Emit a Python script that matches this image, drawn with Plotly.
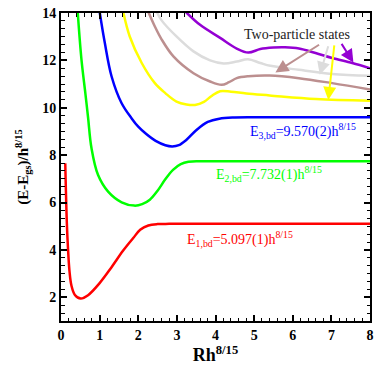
import plotly.graph_objects as go

# bound-state branches
red_x = [0.11, 0.15, 0.18, 0.22, 0.27, 0.36, 0.51, 0.70, 1.0, 1.3, 1.6, 1.87, 2.05, 2.26, 2.5, 2.8, 3.5, 5.0, 8.0]
red_y = [7.66, 5.2, 4.1, 3.1, 2.5, 2.1, 1.95, 2.09, 2.6, 3.25, 3.95, 4.5, 4.85, 5.03, 5.09, 5.1, 5.1, 5.1, 5.1]

green_x = [0.43, 0.53, 0.63, 0.70, 0.79, 0.96, 1.22, 1.57, 1.90, 2.1, 2.3, 2.5, 2.7, 2.9, 3.1, 3.3, 3.6, 4.5, 8.0]
green_y = [14.1, 12.03, 10.62, 9.6, 8.29, 7.16, 6.46, 6.01, 5.87, 5.93, 6.12, 6.5, 6.98, 7.38, 7.62, 7.72, 7.74, 7.74, 7.74]

blue_x = [1.0, 1.135, 1.31, 1.57, 1.83, 2.0, 2.2, 2.45, 2.7, 2.88, 3.05, 3.25, 3.5, 3.8, 4.1, 4.5, 5.0, 8.0]
blue_y = [14.05, 12.73, 11.32, 10.19, 9.55, 9.2, 8.9, 8.6, 8.42, 8.37, 8.42, 8.65, 9.05, 9.4, 9.54, 9.59, 9.6, 9.6]

# two-particle branches
yellow_x = [1.61, 1.78, 2.09, 2.43, 2.7, 2.99, 3.25, 3.47, 3.7, 3.9, 4.12, 4.4, 4.8, 5.4, 6.6, 8.0]
yellow_y = [14.05, 13.01, 11.89, 11.04, 10.62, 10.26, 10.14, 10.12, 10.25, 10.5, 10.7, 10.68, 10.6, 10.52, 10.37, 10.3]

brown_x = [2.26, 2.43, 2.6, 2.91, 3.43, 3.86, 4.16, 4.35, 4.55, 4.85, 5.4, 6.16, 7.02, 8.0]
brown_y = [14.05, 13.43, 12.9, 12.17, 11.46, 11.11, 10.97, 11.08, 11.25, 11.33, 11.36, 11.25, 11.04, 10.77]

grey_x = [2.48, 2.6, 2.99, 3.43, 3.86, 4.21, 4.55, 4.84, 5.16, 5.42, 6.16, 7.02, 8.0]
grey_y = [14.05, 13.7, 13.01, 12.38, 12.0, 11.87, 11.95, 12.05, 11.89, 11.77, 11.6, 11.43, 11.35]

violet_x = [3.24, 3.6, 4.12, 4.55, 4.85, 5.16, 5.5, 5.8, 6.16, 6.59, 7.02, 7.54, 8.0]
violet_y = [14.03, 13.5, 12.95, 12.5, 12.33, 12.48, 12.54, 12.55, 12.5, 12.31, 12.1, 11.89, 11.67]

series = [
    (red_x, red_y, "#ff0000"),
    (green_x, green_y, "#00ff00"),
    (blue_x, blue_y, "#0000ff"),
    (yellow_x, yellow_y, "#ffff00"),
    (brown_x, brown_y, "#bc8f8f"),
    (grey_x, grey_y, "#dcdcdc"),
    (violet_x, violet_y, "#9400d3"),
]

fig = go.Figure()
for xs, ys, col in series:
    fig.add_trace(go.Scatter(x=xs, y=ys, mode="lines",
                             line=dict(color=col, width=2.5, shape="spline", smoothing=1.0),
                             showlegend=False, hoverinfo="skip"))

serif = "Liberation Serif, Times New Roman, serif"

# energy labels
labels = [
    (4.85, 9.0, "E<sub>3,bd</sub>=9.570(2)h<sup>8/15</sup>", "#0000ff"),
    (3.95, 7.2, "E<sub>2,bd</sub>=7.732(1)h<sup>8/15</sup>", "#00ff00"),
    (3.21, 4.45, "E<sub>1,bd</sub>=5.097(1)h<sup>8/15</sup>", "#ff0000"),
]
for lx, ly, txt, col in labels:
    fig.add_annotation(x=lx, y=ly, text=txt, showarrow=False, xanchor="left", yanchor="middle",
                       font=dict(family=serif, size=14, color=col))

fig.add_annotation(x=6.11, y=13.11, text="Two-particle states", showarrow=False,
                   font=dict(family=serif, size=14, color="#222222"))

# arrows: (tail_x, tail_y, head_x, head_y, colour)
arrows = [
    (6.72, 12.70, 5.55, 11.49, "#bc8f8f"),
    (6.93, 12.66, 6.70, 11.39, "#dcdcdc"),
    (7.08, 12.70, 6.92, 10.33, "#ffff00"),
    (7.24, 12.76, 7.57, 11.91, "#9400d3"),
]
for tx, ty, hx, hy, col in arrows:
    fig.add_annotation(x=hx, y=hy, ax=tx, ay=ty, xref="x", yref="y", axref="x", ayref="y",
                       text="", showarrow=True, arrowhead=2, arrowsize=1.3, arrowwidth=2,
                       arrowcolor=col)

axis_common = dict(
    showline=True, linecolor="black", linewidth=2, mirror="ticks",
    ticks="inside", ticklen=6, tickwidth=1.5, tickcolor="black",
    showgrid=False, zeroline=False, automargin=False,
    tickfont=dict(family=serif, size=14, color="black", weight="bold"),
)

fig.update_xaxes(range=[0, 8], tick0=0, dtick=1,
                 minor=dict(ticks="inside", ticklen=3.5, tickwidth=1.2, tickcolor="black", dtick=0.2),
                 title=dict(text="<b>Rh<sup>8/15</sup></b>", font=dict(family=serif, size=18, color="black"),
                            standoff=4),
                 **axis_common)
fig.update_yaxes(range=[1, 14], tick0=0, dtick=2,
                 minor=dict(ticks="inside", ticklen=3.5, tickwidth=1.2, tickcolor="black", dtick=1 / 3),
                 title=dict(text="<b>(E-E<sub>gs</sub>)/h<sup>8/15</sup></b>",
                            font=dict(family=serif, size=15, color="black"), standoff=10),
                 **axis_common)

fig.update_layout(width=374, height=368, margin=dict(l=61, r=4, t=13, b=47),
                  plot_bgcolor="white", paper_bgcolor="white")

# drop the browser's default body margin so the figure sits at the page corner
fig.write_html("out.html", config={"displayModeBar": False},
               post_script="document.body.style.margin='0';")
